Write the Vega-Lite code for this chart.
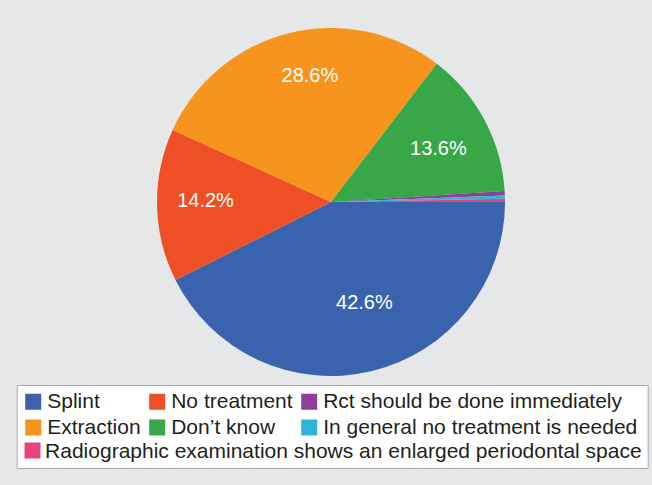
{
  "$schema": "https://vega.github.io/schema/vega-lite/v6.json",
  "width": 652,
  "height": 394,
  "autosize": {"type": "none"},
  "padding": {"left": 5, "top": 5, "right": 0, "bottom": 86},
  "background": "#e6e7e8",
  "config": {
    "view": {"stroke": "#a7a9ac", "strokeWidth": 1.5},
    "font": "Liberation Sans",
    "text": {"font": "Liberation Sans", "fontSize": 20, "color": "white"}
  },
  "data": {
    "values": [
      {"answer": "Splint", "share": 0.426, "slice": 1},
      {"answer": "No treatment", "share": 0.142, "slice": 2},
      {"answer": "Extraction", "share": 0.286, "slice": 3},
      {"answer": "Don’t know", "share": 0.136, "slice": 4},
      {"answer": "Rct should be done immediately", "share": 0.004, "slice": 5},
      {"answer": "In general no treatment is needed", "share": 0.003, "slice": 6},
      {"answer": "Radiographic examination shows an enlarged periodontal space", "share": 0.003, "slice": 7}
    ]
  },
  "layer": [
    {
      "mark": {"type": "arc", "radius": 174},
      "encoding": {
        "theta": {"field": "share", "type": "quantitative", "stack": true, "scale": {"range": [1.5707963, 7.8539816]}},
        "order": {"field": "slice", "type": "quantitative"},
        "color": {
          "field": "answer",
          "type": "nominal",
          "scale": {
            "domain": ["Splint", "No treatment", "Rct should be done immediately", "Extraction", "Don’t know", "In general no treatment is needed", "Radiographic examination shows an enlarged periodontal space"],
            "range": ["#3a63ad", "#ee4f24", "#8e3f97", "#f7941e", "#37a748", "#2eb6d8", "#e5457c"]
          },
          "legend": {
            "orient": "none",
            "legendX": 11.7,
            "legendY": 380,
            "columns": 3,
            "gridAlign": "each",
            "values": ["Splint", "Extraction", "No treatment", "Don’t know", "Rct should be done immediately", "In general no treatment is needed"],
            "symbolType": "square",
            "symbolSize": 256,
            "symbolStrokeWidth": 0,
            "labelFontSize": 21,
            "labelFont": "Liberation Sans",
            "labelColor": "#231f20",
            "labelLimit": 1000,
            "labelOffset": 3.5,
            "columnPadding": 6,
            "rowPadding": 4,
            "padding": 6,
            "fillColor": "white",
            "strokeColor": "#a7a9ac",
            "title": "Radiographic examination shows an enlarged periodontal space",
            "titleOrient": "bottom",
            "titleAnchor": "start",
            "titleFontSize": 21,
            "titleFont": "Liberation Sans",
            "titleFontWeight": "normal",
            "titleColor": "#231f20",
            "titleLimit": 1000,
            "titlePadding": 3,
            "zindex": 1,
            "encode": {"title": {"update": {"dx": {"value": 22.4}}}}
          }
        }
      }
    },
    {
      "mark": {"type": "text", "radius": 106, "dx": 9, "dy": -2},
      "encoding": {
        "theta": {"field": "share", "type": "quantitative", "stack": true},
        "order": {"field": "slice", "type": "quantitative"},
        "text": {"condition": {"test": "datum.slice == 1", "field": "share", "type": "quantitative", "format": ".1%"}, "value": ""}
      }
    },
    {
      "mark": {"type": "text", "radius": 124, "dx": -1.5, "dy": -3.5},
      "encoding": {
        "theta": {"field": "share", "type": "quantitative", "stack": true},
        "order": {"field": "slice", "type": "quantitative"},
        "text": {"condition": {"test": "datum.slice == 2", "field": "share", "type": "quantitative", "format": ".1%"}, "value": ""}
      }
    },
    {
      "mark": {"type": "text", "radius": 124, "dx": 9, "dy": -6},
      "encoding": {
        "theta": {"field": "share", "type": "quantitative", "stack": true},
        "order": {"field": "slice", "type": "quantitative"},
        "text": {"condition": {"test": "datum.slice == 3", "field": "share", "type": "quantitative", "format": ".1%"}, "value": ""}
      }
    },
    {
      "mark": {"type": "text", "radius": 124, "dx": -2, "dy": 5.5},
      "encoding": {
        "theta": {"field": "share", "type": "quantitative", "stack": true},
        "order": {"field": "slice", "type": "quantitative"},
        "text": {"condition": {"test": "datum.slice == 4", "field": "share", "type": "quantitative", "format": ".1%"}, "value": ""}
      }
    },
    {
      "transform": [{"filter": "datum.slice == 7"}],
      "mark": {"type": "text"},
      "encoding": {
        "text": {"value": ""},
        "fill": {
          "field": "answer",
          "type": "nominal",
          "scale": {"domain": ["Radiographic examination shows an enlarged periodontal space"], "range": ["#e5457c"]},
          "legend": {
            "orient": "none",
            "legendX": 17,
            "legendY": 435,
            "title": null,
            "symbolType": "square",
            "symbolSize": 256,
            "symbolStrokeWidth": 0,
            "labelExpr": "''",
            "labelFontSize": 21,
            "padding": 0,
            "zindex": 2
          }
        }
      }
    }
  ]
}
